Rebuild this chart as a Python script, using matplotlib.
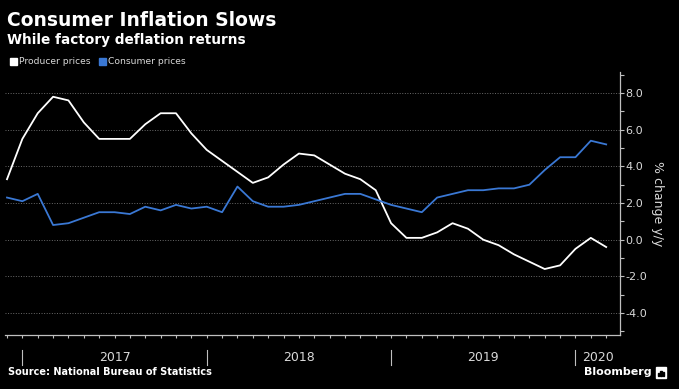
import numpy as np
import matplotlib.pyplot as plt
from matplotlib.patches import Patch, Rectangle
from matplotlib.ticker import MultipleLocator

# monthly, Nov 2016 .. Feb 2020
months = np.arange(40)
producer = [3.3, 5.5, 6.9, 7.8, 7.6, 6.4, 5.5, 5.5, 5.5, 6.3, 6.9, 6.9,
            5.8, 4.9, 4.3, 3.7, 3.1, 3.4, 4.1, 4.7, 4.6, 4.1, 3.6, 3.3,
            2.7, 0.9, 0.1, 0.1, 0.4, 0.9, 0.6, 0.0, -0.3, -0.8, -1.2, -1.6,
            -1.4, -0.5, 0.1, -0.4]
consumer = [2.3, 2.1, 2.5, 0.8, 0.9, 1.2, 1.5, 1.5, 1.4, 1.8, 1.6, 1.9,
            1.7, 1.8, 1.5, 2.9, 2.1, 1.8, 1.8, 1.9, 2.1, 2.3, 2.5, 2.5,
            2.2, 1.9, 1.7, 1.5, 2.3, 2.5, 2.7, 2.7, 2.8, 2.8, 3.0, 3.8,
            4.5, 4.5, 5.4, 5.2]
years = ["2017", "2018", "2019", "2020"]
year_edges = [1, 13, 25, 37]

bg = "#000000"
blue = "#3a78d4"
grey = "#bfbfbf"

fig = plt.figure(figsize=(6.79, 3.89), dpi=100, facecolor=bg)
ax = fig.add_axes([5 / 679, 54 / 389, 615 / 679, 263 / 389], facecolor=bg)

ax.plot(months, producer, color="white", lw=1.3)
ax.plot(months, consumer, color=blue, lw=1.3)

ax.set_xlim(-0.13, 39.9)
ax.set_ylim(-5.2, 9.15)

for s in ["top", "left"]:
    ax.spines[s].set_visible(False)
for s in ["right", "bottom"]:
    ax.spines[s].set_color(grey)
    ax.spines[s].set_linewidth(0.9)

ax.yaxis.tick_right()
ax.yaxis.set_major_locator(MultipleLocator(2))
ax.yaxis.set_minor_locator(MultipleLocator(1))
ax.yaxis.set_major_formatter(lambda v, p: f"{v:.1f}")
ax.tick_params(axis="y", which="both", colors=grey, labelcolor="#d9d9d9",
               labelsize=8, length=3, width=0.8, pad=1)
ax.set_xticks(months)
ax.set_xticklabels([])
ax.tick_params(axis="x", colors=grey, length=2.5, width=0.8)
ax.grid(axis="y", which="major", color="#6a6a6a", ls=":", lw=0.7)

ax.yaxis.set_label_position("right")
ax.set_ylabel("% change y/y", rotation=270, color="#d9d9d9", fontsize=9,
              labelpad=12)

# year separators and labels below the axis
tr = ax.get_xaxis_transform()
for e in year_edges:
    ax.plot([e, e], [-0.057, -0.114], transform=tr, color=grey, lw=0.8,
            clip_on=False)
centers = [7, 19, 31, 38.45]
for c, y in zip(centers, years):
    ax.text(c, -0.085, y, transform=tr, ha="center", va="center",
            color="#d9d9d9", fontsize=9)

fig.text(7 / 679, 1 - 20 / 389, "Consumer Inflation Slows", color="white",
         fontsize=13.5, fontweight="bold", va="center", family="DejaVu Sans")
fig.text(7 / 679, 1 - 40 / 389, "While factory deflation returns",
         color="white", fontsize=9.8, fontweight="bold", va="center",
         family="DejaVu Sans")

handles = [Patch(color="white", label="Producer prices"),
           Patch(color=blue, label="Consumer prices")]
fig.legend(handles=handles, loc="center left", bbox_to_anchor=(2 / 679, 1 - 62 / 389),
           ncol=2, frameon=False, fontsize=6.6, labelcolor="#d9d9d9",
           handlelength=0.7, handleheight=0.7, handletextpad=0.3,
           columnspacing=0.9)

fig.text(8 / 679, 1 - 372 / 389, "Source: National Bureau of Statistics",
         color="white", fontsize=7, fontweight="bold", va="center")
fig.text(584 / 679, 1 - 372 / 389, "Bloomberg", color="white", fontsize=8,
         fontweight="bold", va="center")
# little logo box
fig.patches.append(Rectangle((656 / 679, 1 - 378 / 389), 10 / 679, 11 / 389,
                             transform=fig.transFigure, color="white"))
for i, h in enumerate([3, 5, 4]):
    fig.patches.append(Rectangle(((657.8 + i * 2.6) / 679, 1 - 375.5 / 389),
                                 1.4 / 679, h / 389,
                                 transform=fig.transFigure, color=bg))

fig.savefig("out.png", dpi=100, facecolor=bg)
